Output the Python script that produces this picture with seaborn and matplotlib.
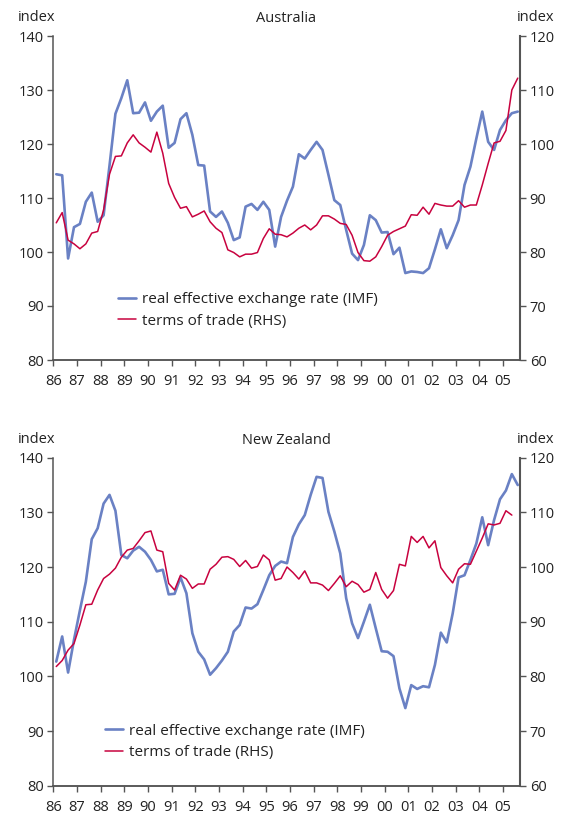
import pandas as pd
import matplotlib
matplotlib.use('Agg')
import matplotlib.pyplot as plt
import seaborn as sns

# quarterly observations, 1986Q1 - 2005Q3
quarters = pd.period_range('1986Q1', '2005Q3', freq='Q')
year_ticks = list(range(1986, 2006))
year_labels = ['86', '87', '88', '89', '90', '91', '92', '93', '94', '95',
               '96', '97', '98', '99', '00', '01', '02', '03', '04', '05']

aus_reer = [114.4, 114.2, 98.8, 104.6, 105.2, 109.3, 111.0, 105.6, 106.8, 116.0,
            125.6, 128.5, 131.8, 125.7, 125.8, 127.7, 124.3, 126.0, 127.1, 119.3,
            120.2, 124.6, 125.7, 121.7, 116.1, 116.0, 107.5, 106.5, 107.5, 105.4,
            102.2, 102.7, 108.4, 108.9, 107.8, 109.3, 107.8, 101.0, 106.5, 109.5,
            112.1, 118.1, 117.3, 118.9, 120.4, 118.9, 114.3, 109.6, 108.7, 104.1,
            99.7, 98.5, 101.3, 106.8, 105.9, 103.6, 103.7, 99.6, 100.8, 96.1,
            96.4, 96.3, 96.1, 97.0, 100.5, 104.2, 100.7, 103.1, 105.9, 112.4,
            115.8, 121.0, 126.0, 120.4, 118.9, 122.6, 124.4, 125.7, 126.0]
aus_tot = [85.4, 87.3, 82.2, 81.5, 80.6, 81.5, 83.5, 83.8, 87.8, 94.4,
           97.7, 97.8, 100.2, 101.7, 100.2, 99.4, 98.5, 102.2, 98.3, 92.7,
           90.1, 88.1, 88.4, 86.5, 87.0, 87.6, 85.6, 84.4, 83.6, 80.4,
           79.9, 79.1, 79.6, 79.6, 79.9, 82.5, 84.3, 83.3, 83.2, 82.8,
           83.5, 84.4, 85.0, 84.1, 85.0, 86.7, 86.7, 86.1, 85.3, 85.1,
           83.1, 79.9, 78.4, 78.3, 79.1, 81.0, 83.1, 83.8, 84.3, 84.8,
           86.9, 86.8, 88.3, 87.0, 89.0, 88.7, 88.5, 88.5, 89.5, 88.3,
           88.7, 88.7, 92.4, 96.4, 100.2, 100.5, 102.5, 110.0, 112.2]

nz_reer = [102.7, 107.3, 100.7, 106.7, 112.1, 117.3, 125.1, 127.1, 131.6, 133.2,
           130.3, 122.2, 121.6, 123.0, 123.7, 122.8, 121.3, 119.2, 119.5, 115.0,
           115.1, 118.1, 115.2, 107.9, 104.5, 103.1, 100.3, 101.5, 102.9, 104.5,
           108.2, 109.4, 112.6, 112.4, 113.2, 115.8, 118.5, 120.2, 121.0, 120.7,
           125.5, 127.8, 129.5, 133.2, 136.5, 136.3, 130.1, 126.5, 122.5, 114.3,
           109.7, 107.0, 110.0, 113.1, 108.8, 104.6, 104.5, 103.7, 97.8, 94.2,
           98.4, 97.7, 98.2, 98.0, 102.1, 108.0, 106.2, 111.5, 118.1, 118.5,
           121.3, 124.3, 129.1, 124.0, 128.6, 132.4, 134.0, 137.0, 135.0]
nz_tot = [81.8, 82.9, 84.8, 86.0, 89.4, 93.1, 93.2, 95.8, 97.9, 98.7,
          99.8, 101.8, 103.1, 103.4, 104.8, 106.3, 106.6, 103.1, 102.8, 97.0,
          95.8, 98.5, 97.8, 96.1, 96.9, 96.9, 99.6, 100.5, 101.8, 101.9,
          101.4, 100.1, 101.2, 99.8, 100.1, 102.2, 101.3, 97.6, 97.9, 100.0,
          99.0, 97.8, 99.3, 97.1, 97.1, 96.7, 95.7, 97.0, 98.4, 96.4,
          97.4, 96.8, 95.4, 95.9, 99.0, 95.9, 94.3, 95.7, 100.5, 100.2,
          105.6, 104.5, 105.6, 103.5, 104.8, 99.9, 98.4, 97.1, 99.6, 100.6,
          100.5, 102.9, 105.3, 107.9, 107.7, 108.0, 110.3, 109.5, None]

BLUE = '#6a81c4'
RED = '#c8023f'
AXCOL = '#555555'
TXT = '#222222'

sns.set_style('ticks')
plt.rcParams['font.family'] = ['Open Sans', 'DejaVu Sans']

df = pd.DataFrame({
    't': quarters.year + (quarters.quarter - 0.5) / 4,
    'aus_reer': aus_reer, 'aus_tot': aus_tot,
    'nz_reer': nz_reer, 'nz_tot': pd.to_numeric(pd.Series(nz_tot), errors='coerce'),
})

W, H = 564, 816
fig = plt.figure(figsize=(W / 100, H / 100), dpi=100)


def px(x, y):
    return x / W, 1 - y / H


def draw_panel(top, bottom, reer_col, tot_col, title, leg_xy, head_y):
    rect = [53.3 / W, 1 - bottom / H, (520 - 53.3) / W, (bottom - top) / H]
    ax = fig.add_axes(rect)
    ax2 = ax.twinx()
    sns.lineplot(data=df, x='t', y=reer_col, ax=ax, color=BLUE,
                 linewidth=1.9, legend=False)
    sns.lineplot(data=df, x='t', y=tot_col, ax=ax2, color=RED,
                 linewidth=1.1, legend=False)
    ax.set_xlim(1986, 2005.72)
    ax.set_ylim(80, 140)
    ax2.set_ylim(60, 120)
    ax.set_yticks(range(80, 141, 10))
    ax2.set_yticks(range(60, 121, 10))
    ax.set_xticks(year_ticks)
    ax.set_xticklabels(year_labels)
    ax.set_xlabel('')
    ax.set_ylabel('')
    ax2.set_ylabel('')
    for a in (ax, ax2):
        a.spines['top'].set_visible(False)
        for s in a.spines.values():
            s.set_color(AXCOL)
            s.set_linewidth(1.1)
        a.tick_params(direction='out', length=4, width=1, color=AXCOL,
                      labelsize=10.5, labelcolor=TXT, pad=3)
    ax2.spines['left'].set_visible(False)
    ax.spines['right'].set_visible(False)
    ax2.spines['right'].set_linewidth(1.5)
    ax.tick_params(axis='x', pad=6)

    fig.text(*px(18, head_y), 'index', ha='left', va='baseline',
             fontsize=10.5, color=TXT)
    fig.text(*px(554, head_y), 'index', ha='right', va='baseline',
             fontsize=10.5, color=TXT)
    fig.text(*px(286, head_y + 1), title, ha='center', va='baseline',
             fontsize=10.5, color=TXT)

    handles = [ax.lines[0], ax2.lines[0]]
    labels = ['real effective exchange rate (IMF)', 'terms of trade (RHS)']
    ax2.legend(handles, labels, loc='center left',
               bbox_to_anchor=px(*leg_xy), bbox_transform=fig.transFigure,
               frameon=False, fontsize=11, handlelength=1.2,
               handletextpad=0.35, labelspacing=0.42, borderpad=0,
               borderaxespad=0, labelcolor=TXT)


draw_panel(36, 360, 'aus_reer', 'aus_tot', 'Australia', (118, 310.5), 21)
draw_panel(457.7, 785.7, 'nz_reer', 'nz_tot', 'New Zealand', (105, 742), 443)

fig.savefig('out.png', dpi=100)
